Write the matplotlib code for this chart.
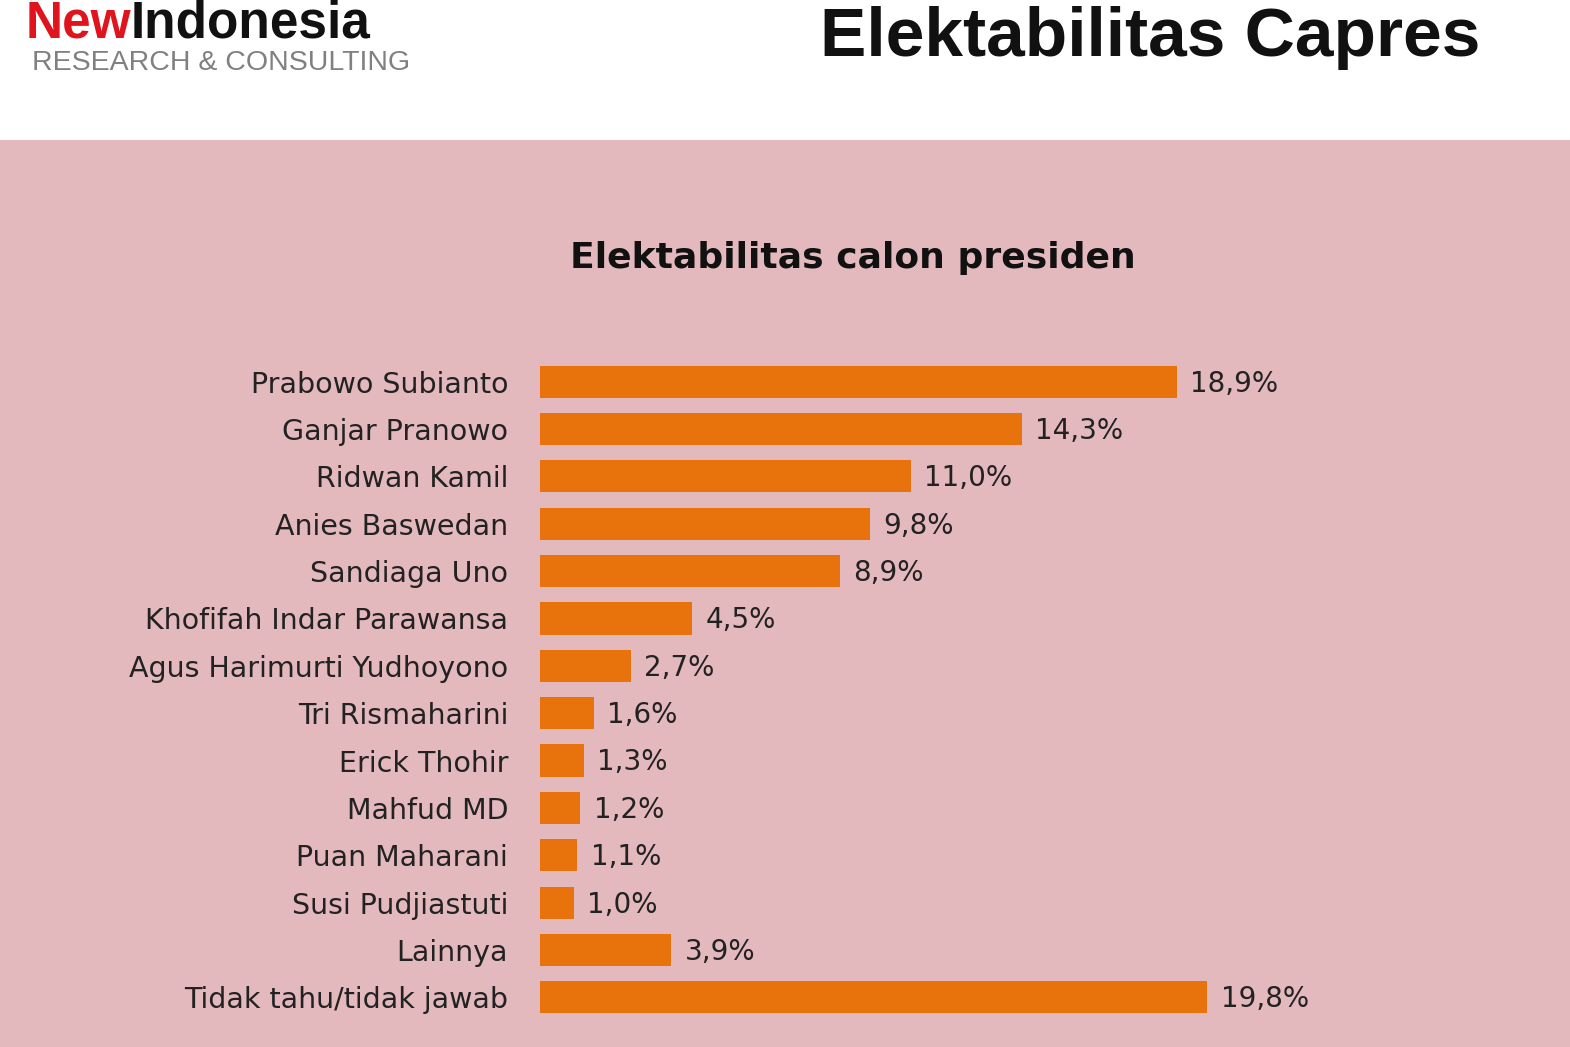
import matplotlib
matplotlib.use("Agg")
import matplotlib.pyplot as plt
from matplotlib.patches import Rectangle

names = ["Prabowo Subianto", "Ganjar Pranowo", "Ridwan Kamil", "Anies Baswedan",
         "Sandiaga Uno", "Khofifah Indar Parawansa", "Agus Harimurti Yudhoyono",
         "Tri Rismaharini", "Erick Thohir", "Mahfud MD", "Puan Maharani",
         "Susi Pudjiastuti", "Lainnya", "Tidak tahu/tidak jawab"]
values = [18.9, 14.3, 11.0, 9.8, 8.9, 4.5, 2.7, 1.6, 1.3, 1.2, 1.1, 1.0, 3.9, 19.8]

W, H = 1570, 1047
fig = plt.figure(figsize=(W / 100, H / 100), dpi=100)
fig.patch.set_facecolor("white")
bg = Rectangle((0, 0), 1, 1 - 140 / H, transform=fig.transFigure,
               facecolor="#e3b9bd", edgecolor="none", zorder=-10)
fig.add_artist(bg)

fig.text(26 / W, 1 - 24 / H, "New", color="#e0141c", fontsize=37, fontweight="bold", va="center",
         family="Liberation Sans")
fig.text(131 / W, 1 - 24 / H, "Indonesia", color="#111111", fontsize=37, fontweight="bold", va="center",
         family="Liberation Sans")
fig.text(32 / W, 1 - 63 / H, "RESEARCH & CONSULTING", color="#808080", fontsize=20.5, va="center",
         family="Liberation Sans")
fig.text(1480 / W, 1 - 38 / H, "Elektabilitas Capres", color="#111111", fontsize=50,
         fontweight="bold", ha="right", va="center", family="Liberation Sans")
fig.text(853 / W, 1 - 258 / H, "Elektabilitas calon presiden", color="#111111", fontsize=26,
         fontweight="bold", ha="center", va="center")

top, bottom = 358, 1021
ax = fig.add_axes([540 / W, 1 - bottom / H, 1011 / W, (bottom - top) / H])
ax.set_zorder(5)
ax.set_facecolor("none")
y = range(len(names))
ax.barh(y, values, height=0.68, color="#e8720c")
for i, v in enumerate(values):
    ax.text(v + 0.4, i + 0.04, f"{v:.1f}%".replace(".", ","), va="center", ha="left",
            fontsize=20, color="#222222")
ax.set_xlim(0, 30)
ax.set_ylim(len(names) - 0.5, -0.5)
ax.set_yticks(list(y))
ax.set_yticklabels(names, fontsize=20.5, color="#222222")
ax.tick_params(axis="y", length=0, pad=23)
ax.set_xticks([])
for s in ax.spines.values():
    s.set_visible(False)

fig.savefig("out.png", dpi=100)
